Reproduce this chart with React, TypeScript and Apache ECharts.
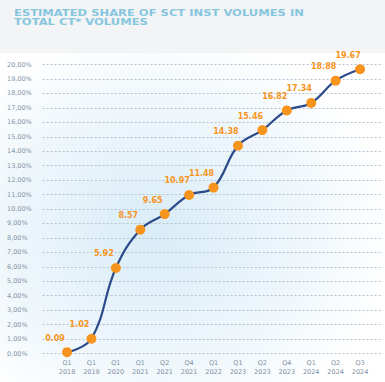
import React, { useEffect, useRef } from "react";
import * as echarts from "echarts";

const quarters = ["Q1", "Q1", "Q1", "Q1", "Q2", "Q4", "Q1", "Q1", "Q2", "Q4", "Q1", "Q2", "Q3"];
const years = ["2018", "2019", "2020", "2021", "2021", "2021", "2022", "2023", "2023", "2023", "2024", "2024", "2024"];
const shares = [0.09, 1.02, 5.92, 8.57, 9.65, 10.97, 11.48, 14.38, 15.46, 16.82, 17.34, 18.88, 19.67];
const titleLines = ["ESTIMATED SHARE OF SCT INST VOLUMES IN", "TOTAL CT* VOLUMES"];

export default function App() {
  const ref = useRef<HTMLDivElement>(null);
  useEffect(() => {
    if (!ref.current) return;
    const chart = echarts.init(ref.current, undefined, { renderer: "svg" });
    const points = shares.map((v, i) => [i, v]);
    chart.setOption({
      animation: false,
      backgroundColor: "#ffffff",
      graphic: [
        { type: "rect", z: -10, shape: { x: 0, y: 0, width: 385, height: 53 }, style: { fill: "#f3f4f5" } },
        {
          type: "rect",
          z: -10,
          shape: { x: 0, y: 53, width: 385, height: 329 },
          style: {
            fill: new echarts.graphic.RadialGradient(0.4, 0.55, 0.62, [
              { offset: 0, color: "#d8ecf7" },
              { offset: 0.6, color: "#eef6fb" },
              { offset: 1, color: "#ffffff" },
            ]),
          },
        },
        {
          type: "text",
          left: 14,
          top: 8,
          scaleX: 1.36,
          style: {
            text: titleLines.join("\n"),
            fill: "#86c6df",
            font: "bold 8.5px 'DejaVu Sans'",
            lineHeight: 9.5,
          },
        },
      ],
      grid: { left: 42.6, right: 2, top: 64.5, bottom: 28.5, containLabel: false },
      xAxis: {
        type: "value",
        min: -1,
        max: 12.94,
        interval: 1,
        axisLine: { show: false },
        axisTick: { show: false },
        splitLine: { show: false },
        axisLabel: {
          showMaxLabel: false,
          margin: 5,
          color: "#7f90a4",
          fontSize: 6.5,
          lineHeight: 9,
          fontFamily: "DejaVu Sans",
          formatter: (v: number) => {
            const i = Math.round(v);
            if (i < 0 || i >= quarters.length || Math.abs(v - i) > 0.01) return "";
            return quarters[i] + "\n" + years[i];
          },
        },
      },
      yAxis: {
        type: "value",
        min: 0,
        max: 20,
        interval: 1,
        axisLine: { show: false },
        axisTick: { show: false },
        splitLine: { lineStyle: { type: [2, 2], color: "#b3c3d3", width: 1 } },
        axisLabel: {
          align: "left",
          margin: 35.6,
          color: "#8494a6",
          fontSize: 6.5,
          fontFamily: "DejaVu Sans",
          formatter: (v: number) => v.toFixed(2).replace(".", ",") + "%",
        },
      },
      series: [
        {
          type: "line",
          data: points,
          smooth: 0.4,
          lineStyle: { color: "#2d4a8a", width: 2.2 },
          symbol: "circle",
          symbolSize: 10,
          itemStyle: { color: "#f7941d" },
          label: {
            show: true,
            position: "top",
            offset: [-12, 0],
            color: "#f7941d",
            fontSize: 8,
            fontWeight: "bold",
            fontFamily: "DejaVu Sans",
            formatter: (p: any) => p.value[1].toFixed(2),
          },
        },
      ],
    });
    return () => chart.dispose();
  }, []);
  return <div ref={ref} style={{ position: "fixed", left: 0, top: 0, width: 385, height: 382 }} />;
}
